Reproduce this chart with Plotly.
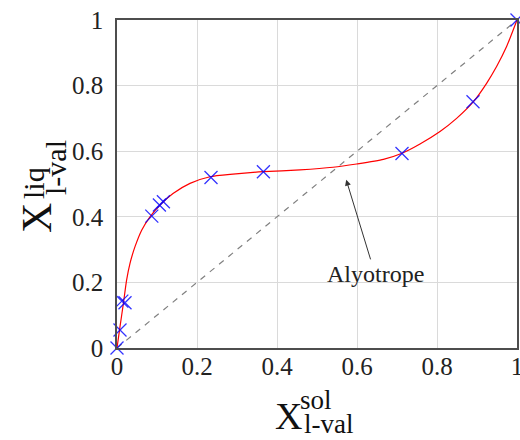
import plotly.graph_objects as go

# Fitted curve
curve_x = [0, 0.0075, 0.016, 0.024, 0.0325, 0.045, 0.062, 0.0825, 0.1075, 0.14, 0.1825,
           0.2325, 0.29, 0.366, 0.4575, 0.54, 0.599, 0.666, 0.711, 0.7575, 0.8075, 0.849,
           0.891, 0.924, 0.949, 0.974, 1.0]
curve_y = [0, 0.065, 0.136, 0.207, 0.258, 0.309, 0.36, 0.40, 0.436, 0.471, 0.502,
           0.522, 0.530, 0.5375, 0.543, 0.551, 0.561, 0.575, 0.593, 0.622, 0.66, 0.70,
           0.751, 0.807, 0.858, 0.919, 1.0]

# Measured points
data_x = [0, 0.0075, 0.012, 0.02, 0.087, 0.106, 0.116, 0.235, 0.366, 0.7125, 0.89, 1.0]
data_y = [0, 0.055, 0.143, 0.138, 0.402, 0.436, 0.446, 0.520, 0.5375, 0.593, 0.751, 1.0]

diag_x = [0, 1]
diag_y = [0, 1]

tick_vals = [0, 0.2, 0.4, 0.6, 0.8, 1]
tick_text = ["0", "0.2", "0.4", "0.6", "0.8", "1"]

FONT = "Liberation Serif"

fig = go.Figure()
fig.add_trace(go.Scatter(x=diag_x, y=diag_y, mode="lines",
                         line=dict(color="#808080", width=1.2, dash="6px,6px"),
                         showlegend=False, hoverinfo="skip"))
fig.add_trace(go.Scatter(x=curve_x, y=curve_y, mode="lines",
                         line=dict(color="red", width=1.2, shape="spline", smoothing=0.6),
                         showlegend=False))
fig.add_trace(go.Scatter(x=data_x, y=data_y, mode="markers", cliponaxis=False,
                         marker=dict(symbol="x-thin", size=13,
                                     line=dict(color="rgba(0,0,255,0.8)", width=1.3)),
                         showlegend=False))

fig.add_annotation(x=0.573, y=0.513, ax=0.645, ay=0.226, axref="x", ayref="y",
                   xref="x", yref="y", text="Alyotrope", showarrow=True,
                   arrowhead=2, arrowsize=1.2, arrowwidth=1, arrowcolor="#333333",
                   font=dict(family=FONT, size=24, color="#222222"))

# y-axis title
fig.add_annotation(xref="paper", yref="paper", x=(37 - 117) / 400, y=(348 - 218) / 328,
                   text="X", textangle=-90, showarrow=False, xanchor="center", yanchor="middle",
                   font=dict(family=FONT, size=42, color="#111111"))
fig.add_annotation(xref="paper", yref="paper", x=(33 - 117) / 400, y=(348 - 183) / 328,
                   text="liq", textangle=-90, showarrow=False, xanchor="center", yanchor="middle",
                   font=dict(family=FONT, size=30, color="#111111"))
fig.add_annotation(xref="paper", yref="paper", x=(55 - 117) / 400, y=(348 - 168) / 328,
                   text="l-val", textangle=-90, showarrow=False, xanchor="center", yanchor="middle",
                   font=dict(family=FONT, size=30, color="#111111"))

# x-axis title
fig.add_annotation(xref="paper", yref="paper", x=(288 - 117) / 400, y=(348 - 416) / 328,
                   text="X", showarrow=False, xanchor="center", yanchor="middle",
                   font=dict(family=FONT, size=38, color="#111111"))
fig.add_annotation(xref="paper", yref="paper", x=(316 - 117) / 400, y=(348 - 400) / 328,
                   text="sol", showarrow=False, xanchor="center", yanchor="middle",
                   font=dict(family=FONT, size=27, color="#111111"))
fig.add_annotation(xref="paper", yref="paper", x=(328 - 117) / 400, y=(348 - 424) / 328,
                   text="l-val", showarrow=False, xanchor="center", yanchor="middle",
                   font=dict(family=FONT, size=27, color="#111111"))

axis_common = dict(range=[0, 1], tickvals=tick_vals, ticktext=tick_text,
                   showgrid=True, gridcolor="#dadada", gridwidth=1,
                   showline=True, linecolor="#4d4d4d", linewidth=1.5, mirror=True,
                   ticklabeloverflow="allow", automargin=False,
                   zeroline=False, ticks="", tickfont=dict(family=FONT, size=25, color="#222222"))

fig.update_xaxes(**axis_common, ticklabelstandoff=-5)
fig.update_yaxes(**axis_common, ticklabelstandoff=7)

fig.update_layout(width=520, height=440, margin=dict(l=117, r=3, t=20, b=92, autoexpand=False),
                  plot_bgcolor="white", paper_bgcolor="white",
                  font=dict(family=FONT))

# remove the page's default body margin so the figure fills the 520x440 window
fig.write_html("out.html", config={"displayModeBar": False},
               post_script="document.body.style.margin='0';document.body.style.overflow='hidden';")
